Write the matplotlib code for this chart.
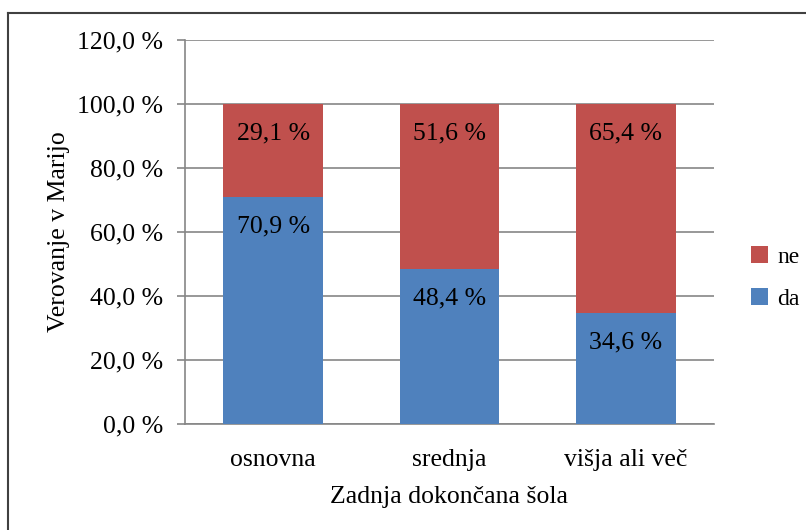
import matplotlib
matplotlib.use("Agg")
import matplotlib.pyplot as plt
from matplotlib.patches import Patch
from matplotlib.lines import Line2D
import numpy as np

categories = ["osnovna", "srednja", "višja ali več"]
da = [70.9, 48.4, 34.6]
ne = [29.1, 51.6, 65.4]
yticks = [0, 20, 40, 60, 80, 100, 120]

plt.rcParams['font.family'] = ['Liberation Serif', 'DejaVu Serif']

W, H = 806, 530
fig = plt.figure(figsize=(W / 100, H / 100), dpi=100)
ax = fig.add_axes([185 / W, (H - 424) / H, 529 / W, 384 / H])

blue = "#4F81BD"
red = "#C0504D"
grid = "#868686"
FS = 18.5

x = np.arange(len(categories))
bw = 0.567
ax.bar(x, da, bw, color=blue, zorder=3)
ax.bar(x, ne, bw, bottom=da, color=red, zorder=3)

def fmt(v):
    return f"{v:.1f}".replace(".", ",") + " %"

for i in range(len(categories)):
    ax.text(x[i], da[i] - 9.2, fmt(da[i]), ha="center", va="center", fontsize=FS, zorder=4)
    ax.text(x[i], da[i] + ne[i] - 9.2, fmt(ne[i]), ha="center", va="center", fontsize=FS, zorder=4)

ax.set_xlim(-0.5, len(categories) - 0.5)
ax.set_ylim(0, 120)
ax.set_yticks(yticks)
ax.set_yticklabels([fmt(t) for t in yticks], fontsize=FS)
ax.set_xticks(x)
ax.set_xticklabels(categories, fontsize=FS)
ax.tick_params(axis="x", length=0, pad=18)
ax.tick_params(axis="y", length=6, color=grid, width=1.2, pad=10)
ax.yaxis.grid(True, color=grid, linewidth=1.2, zorder=0)
for s in ["top", "right"]:
    ax.spines[s].set_visible(False)
ax.spines["left"].set_color(grid)
ax.spines["left"].set_linewidth(1.2)
ax.spines["bottom"].set_color(grid)
ax.spines["bottom"].set_linewidth(1.2)
ax.set_xlabel("Zadnja dokončana šola", fontsize=FS, labelpad=11)
ax.set_ylabel("Verovanje v Marijo", fontsize=FS, labelpad=5)

handles = [Patch(facecolor=red, edgecolor="none"), Patch(facecolor=blue, edgecolor="none")]
fig.legend(handles, ["ne", "da"], loc="center left",
           bbox_to_anchor=(730 / W, (H - 278) / H), frameon=False,
           fontsize=17, handlelength=0.7, handleheight=0.7,
           handletextpad=0.4, labelspacing=0.85)

# outer border (top and left visible)
fig.add_artist(Line2D([8 / W, 1.0], [(H - 13) / H] * 2, color="#404040", lw=1.5))
fig.add_artist(Line2D([8 / W] * 2, [0.0, (H - 13) / H], color="#404040", lw=1.5))

fig.savefig("out.png", dpi=100)
